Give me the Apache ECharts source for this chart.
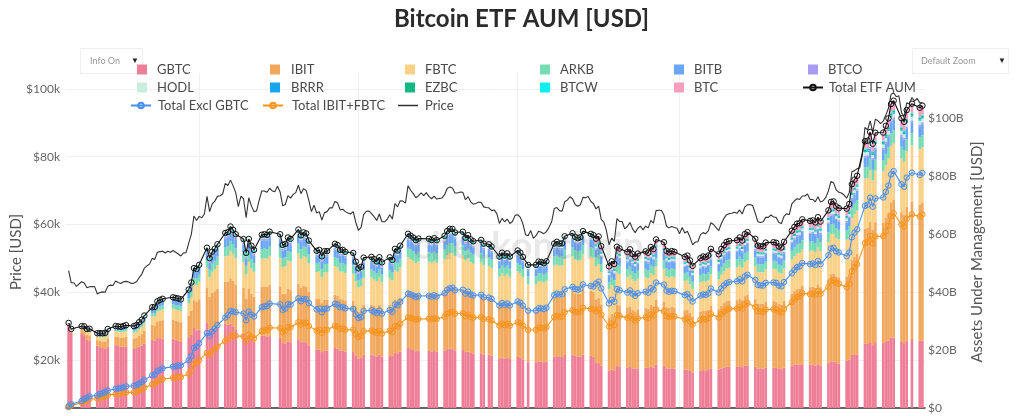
<!DOCTYPE html>
<html><head><meta charset="utf-8">
<script src="https://cdn.jsdelivr.net/npm/echarts@6/dist/echarts.min.js"></script>
<style>html,body{margin:0;padding:0;background:#fff}#c{width:1024px;height:416px}</style>
</head><body><div id="c"></div>
<script>
// ---------- calendar ----------
const firstDay = '2024-01-11';
const lastDay = '2024-12-03';
const marketHolidays = ['2024-01-15','2024-02-19','2024-03-29','2024-05-27','2024-06-19','2024-07-04','2024-09-02','2024-11-28'];
const gridDates = ['2024-03-01','2024-05-01','2024-07-01','2024-09-01','2024-11-01'];
const priceTicks = [20,40,60,80,100];      // $k
const aumTicks = [0,20,40,60,80,100];      // $B

// ---------- BTC price, daily close ($k), calendar days ----------
const priceJan = [46.4,42.8,42.8,41.7,42.5,43.1,42.7,41.3,41.6,41.7,41.6,39.5,39.9,40.1,40.0,41.8,42.1,42.0,43.3,42.9,42.6];
const priceFeb = [43.1,43.2,43.0,42.6,42.7,43.1,44.3,45.3,47.1,47.8,48.3,50.0,49.7,51.8,52.0,52.1,51.6,52.1,51.8,52.3,51.8,51.3,50.7,51.6,51.7,54.5,57.1,62.5,61.2];
const priceMar = [62.4,62.0,63.1,68.3,63.8,66.1,66.9,68.3,68.5,69.0,72.1,71.5,73.1,71.4,69.4,65.3,68.4,67.6,62.0,67.9,65.5,63.8,64.0,67.2,69.9,69.9,69.5,70.7,69.9,69.7,71.3];
const priceApr = [69.6,65.5,65.9,68.5,67.8,68.9,69.4,71.6,69.1,70.6,70.0,67.1,63.8,65.7,63.4,63.8,61.3,63.5,63.8,64.9,64.9,66.8,66.4,64.3,64.5,63.8,63.4,63.1,63.8,60.6];
const priceMay = [58.3,59.1,62.9,63.9,64.0,63.2,62.3,61.2,63.1,60.8,60.8,61.5,62.9,61.6,66.2,65.2,67.0,66.9,66.3,71.4,70.1,69.1,67.9,68.5,69.3,68.5,69.4,68.3,67.6,68.4,67.5];
const priceJun = [67.7,67.8,68.8,70.6,71.1,70.8,69.3,69.3,69.6,69.5,67.3,68.2,66.7,66.0,66.2,66.6,66.5,65.2,65.0,64.9,64.1,64.3,63.2,60.3,61.8,60.8,61.6,60.3,60.9,62.7];
const priceJul = [62.9,62.1,60.2,57.0,56.7,58.2,55.9,56.7,58.0,57.7,57.3,57.9,59.2,60.8,64.7,65.0,64.1,63.9,66.7,67.2,68.2,67.6,65.9,65.4,65.8,68.0,67.9,68.3,66.8,66.2,64.6];
const priceAug = [65.4,61.5,60.7,58.1,54.0,56.0,55.0,61.7,60.9,60.9,58.7,59.4,60.6,58.7,57.6,58.9,59.5,58.4,59.5,59.0,61.2,60.4,64.1,64.2,64.2,62.8,59.5,59.0,59.4,59.1,58.9];
const priceSep = [57.3,59.1,57.5,58.0,56.2,54.0,54.8,54.9,57.0,57.6,57.3,58.1,60.5,60.0,59.1,58.2,60.3,61.8,62.9,63.2,63.3,63.6,63.3,64.3,63.1,65.2,65.8,65.9,65.6,63.3];
const priceOct = [60.8,60.6,60.8,62.1,62.1,62.8,62.2,62.1,60.6,60.3,62.4,63.2,62.9,66.1,67.0,67.6,67.4,68.4,68.4,69.0,67.4,67.4,66.7,68.2,66.6,67.0,68.0,69.9,72.7,72.3,70.2];
const priceNov = [69.5,69.3,68.7,67.8,69.4,75.6,75.9,76.5,76.7,80.5,88.7,87.9,90.6,87.3,91.1,90.6,89.8,90.5,92.3,94.3,98.4,98.9,97.7,98.0,93.0,91.9,95.9,95.6,97.5,96.4];
const priceDec = [97.2,95.9,96.0];

// ---------- ETF AUM ($B), one value per trading day ----------
const gbtc = [
28.7,26.0, 25.8,25.1,23.7,23.3, 21.5,21.0,20.7,20.4,21.2, 21.7,21.4,21.1,21.2,21.1, 20.6,20.7,21.2,21.5,22.2,
23.5,23.3,24.1,24.1,24.0, 23.9,23.6,23.2,22.8, 24.4,25.4,27.6,26.8,27.1, 29.4,26.8,27.5,27.6,27.9, 29.2,28.7,29.2,28.2,26.9,
25.7,23.2,25.1,23.8,23.0, 25.0,24.9,24.6,24.8, 24.2,22.4,22.3,23.0,22.7, 23.7,22.7,23.0,22.7,21.6, 20.2,20.2,19.3,19.9,19.8,
20.7,20.5,19.8,19.7,19.5, 19.3,18.2,17.1,17.3,18.4, 18.4,18.1,17.8,18.4,17.7, 18.2,17.9,19.2,18.9,19.4, 20.7,20.3,20.0,19.6,19.8,
19.7,19.5,19.7,19.4, 19.8,20.3,20.5,20.3,19.9, 20.0,19.3,19.5,19.0,18.7, 18.9,18.5,18.4,18.1, 16.9,17.4,17.0,17.3,16.9,
17.6,17.3,16.8,15.8, 15.8,16.1,16.0,15.8,16.0, 17.8,17.9,17.6,17.6,18.3, 18.5,18.0,17.8,17.8,18.4, 18.0,17.7,15.5,15.6,14.6,
12.8,13.3,13.0,14.6,14.4, 14.0,14.2,13.7,13.5,13.7, 13.9,13.8,14.2,14.0,14.9, 14.6,13.7,13.6,13.7,13.6, 13.2,13.3,12.8,12.3,
12.9,13.1,13.0,13.1,13.7, 13.2,13.6,13.9,14.2,14.2, 14.2,14.4,14.1,14.6,14.7, 14.2,13.6,13.5,13.6,13.9, 13.9,13.8,13.5,13.4,13.9,
14.7,14.9,15.0,14.9,15.1, 14.9,14.9,14.7,15.1,14.7, 15.5,16.1,16.0,15.5,15.3, 16.4,16.7,18.3,18.3,18.5, 22.3,22.1,22.7,21.7,22.7,
22.4,22.8,23.2,24.3,24.3, 22.8,22.4,23.3,23.8, 23.2,23.2];
const ibit = [
0.1,0.5, 1.1,1.4,1.6,1.8, 1.9,2.2,2.3,2.5,2.8, 3.0,3.1,3.1,3.2,3.4, 3.4,3.5,3.8,4.0,4.4,
5.1,5.2,5.8,6.1,6.3, 6.6,6.6,6.7,6.8, 7.5,8.2,9.6,9.9,10.4, 12.0,11.5,12.2,12.7,13.3, 14.4,14.9,15.6,15.7,15.7,
15.7,14.6,16.2,15.7,15.3, 16.9,17.1,17.2,17.8, 17.8,16.9,17.2,18.1,18.0, 19.2,18.7,19.1,19.1,18.4, 17.4,17.6,16.9,17.5,17.6,
18.4,18.3,17.8,17.8,17.6, 17.6,16.6,16.0,16.2,17.2, 17.3,17.1,16.8,17.3,16.7, 17.3,17.0,18.3,18.2,18.8, 20.2,20.0,19.8,19.5,19.7,
19.7,19.6,19.8,19.6, 20.1,20.7,21.1,21.2,20.8, 20.9,20.3,20.7,20.3,20.1, 20.3,19.9,19.8,19.6, 18.4,18.9,18.5,18.8,18.4,
19.2,18.9,18.4,17.4, 17.5,17.9,17.9,17.8,18.1, 20.3,20.6,20.5,20.5,21.5, 22.0,21.6,21.5,21.7,22.6, 22.4,22.4,22.0,22.4,21.2,
18.5,19.2,18.9,21.2,21.0, 20.5,20.9,20.3,19.9,20.4, 20.7,20.5,21.4,21.1,22.5, 22.2,21.1,21.0,21.2,21.1, 20.5,20.7,20.1,19.3,
20.4,20.6,20.5,20.8,21.7, 20.9,21.7,22.3,22.7,22.9, 23.0,23.4,23.1,24.0,24.4, 23.4,22.5,22.4,22.4,22.9, 23.0,22.9,22.4,22.3,23.1,
24.7,25.4,26.0,26.3,27.0, 26.8,27.0,26.8,27.6,27.0, 28.7,30.1,30.4,29.9,29.8, 29.0,29.8,32.9,33.9,34.8, 39.6,40.1,41.6,39.8,41.4,
41.6,42.9,44.3,46.7,47.5, 44.8,44.3,46.2,47.3, 46.9,47.5];
const fbtc = [
0.2,0.4, 0.7,0.9,1.1,1.3, 1.3,1.4,1.5,1.6,1.7, 1.8,1.8,1.9,1.9,2.0, 2.0,2.1,2.2,2.4,2.6,
3.0,3.1,3.4,3.5,3.7, 3.8,3.8,3.9,3.9, 4.3,4.7,5.5,5.7,6.1, 7.0,6.8,7.3,7.6,8.0, 8.7,8.9,9.4,9.3,9.2,
9.0,8.3,9.1,8.8,8.7, 9.6,9.7,9.7,9.9, 9.8,9.3,9.4,9.8,9.8, 10.4,10.1,10.3,10.3,9.9, 9.3,9.4,9.0,9.4,9.4,
9.9,9.8,9.5,9.6,9.4, 9.4,8.9,8.5,8.6,9.3, 9.4,9.2,9.1,9.3,9.0, 9.4,9.2,10.0,9.9,10.3, 11.1,11.1,11.0,10.9,11.0,
11.1,11.0,11.2,11.1, 11.4,11.8,11.9,12.0,11.7, 11.8,11.3,11.5,11.1,11.0, 11.1,10.8,10.8,10.6, 10.0,10.2,10.1,10.2,10.0,
10.4,10.3,10.0,9.5, 9.5,9.8,9.8,9.7,9.8, 11.1,11.2,11.0,11.1,11.6, 11.8,11.6,11.5,11.6,12.0, 11.8,11.7,11.5,11.6,11.0,
9.6,9.9,9.7,10.9,10.8, 10.6,10.8,10.5,10.3,10.5, 10.6,10.5,10.9,10.8,11.4, 11.2,10.6,10.4,10.5,10.5, 10.1,10.2,9.8,9.5,
10.0,10.1,10.1,10.2,10.7, 10.3,10.7,10.9,11.2,11.3, 11.3,11.5,11.2,11.7,11.8, 11.4,10.9,10.9,10.8,11.1, 11.1,11.1,10.8,10.7,11.1,
11.8,12.1,12.3,12.3,12.6, 12.5,12.5,12.3,12.7,12.4, 13.1,13.7,13.7,13.3,13.1, 12.7,13.0,14.3,14.7,14.8, 17.3,17.2,17.8,17.0,17.8,
17.7,18.1,18.6,19.5,19.7, 18.5,18.3,19.1,19.5, 19.2,19.3];
const arkb = [
0.04,0.06, 0.13,0.21,0.25,0.29, 0.32,0.36,0.40,0.44,0.50, 0.56,0.60,0.64,0.65,0.69, 0.73,0.78,0.80,0.86,0.94,
1.10,1.19,1.30,1.35,1.41, 1.46,1.50,1.54,1.52, 1.69,1.88,2.19,2.26,2.37, 2.73,2.62,2.78,2.88,3.01, 3.24,3.29,3.44,3.36,3.33,
3.24,2.98,3.26,3.14,3.06, 3.36,3.36,3.34,3.39, 3.34,3.08,3.10,3.22,3.19, 3.37,3.25,3.32,3.29,3.15, 2.92,2.93,2.82,2.92,2.93,
3.07,3.05,2.96,2.97,2.93, 2.87,2.67,2.51,2.54,2.77, 2.78,2.74,2.69,2.78,2.68, 2.77,2.71,2.98,2.93,3.02, 3.28,3.29,3.25,3.19,3.22,
3.21,3.18,3.21,3.17, 3.30,3.39,3.41,3.40,3.33, 3.34,3.16,3.21,3.13,3.10, 3.13,3.00,2.99,2.95, 2.77,2.84,2.80,2.83,2.77,
2.89,2.86,2.77,2.66, 2.66,2.73,2.71,2.69,2.72, 3.04,3.12,3.08,3.07,3.20, 3.24,3.16,3.14,3.16,3.26, 3.21,3.18,3.10,3.14,2.89,
2.48,2.58,2.53,2.90,2.86, 2.79,2.85,2.76,2.71,2.77, 2.80,2.77,2.88,2.84,3.01, 2.95,2.80,2.71,2.73,2.72, 2.59,2.61,2.53,2.43,
2.57,2.59,2.58,2.61,2.72, 2.62,2.71,2.78,2.83,2.84, 2.85,2.89,2.84,3.00,3.03, 2.91,2.74,2.73,2.74,2.79, 2.80,2.79,2.73,2.71,2.81,
3.04,3.08,3.18,3.17,3.21, 3.17,3.17,3.13,3.21,3.13, 3.36,3.49,3.47,3.30,3.27, 3.19,3.26,3.55,3.64,3.67, 3.83,3.80,3.92,3.69,3.85,
3.83,3.91,3.99,4.25,4.28, 4.01,3.97,4.14,4.21, 4.14,4.15];
const bitb = [
0.19,0.21, 0.26,0.34,0.37,0.42, 0.43,0.52,0.56,0.64,0.71, 0.78,0.82,0.85,0.91,0.95, 0.98,0.99,1.06,1.13,1.22,
1.35,1.39,1.50,1.56,1.56, 1.62,1.66,1.64,1.67, 1.85,2.00,2.25,2.20,2.31, 2.60,2.42,2.58,2.61,2.73, 2.88,2.93,3.00,2.93,2.85,
2.77,2.54,2.78,2.69,2.62, 2.87,2.87,2.85,2.90, 2.85,2.62,2.64,2.74,2.71, 2.86,2.76,2.82,2.80,2.68, 2.54,2.55,2.45,2.54,2.55,
2.67,2.66,2.57,2.58,2.55, 2.55,2.36,2.27,2.30,2.45, 2.46,2.43,2.39,2.46,2.37, 2.45,2.40,2.58,2.54,2.61, 2.78,2.73,2.69,2.65,2.67,
2.66,2.64,2.67,2.63, 2.68,2.75,2.77,2.76,2.70, 2.71,2.62,2.66,2.60,2.57, 2.59,2.54,2.53,2.50, 2.35,2.41,2.37,2.40,2.35,
2.45,2.42,2.35,2.21, 2.21,2.26,2.25,2.23,2.26, 2.52,2.54,2.56,2.56,2.67, 2.70,2.64,2.62,2.63,2.72, 2.67,2.65,2.58,2.62,2.46,
2.16,2.24,2.20,2.47,2.44, 2.38,2.42,2.35,2.30,2.36, 2.38,2.36,2.45,2.42,2.56, 2.51,2.38,2.36,2.38,2.36, 2.30,2.32,2.25,2.16,
2.28,2.30,2.29,2.32,2.42, 2.33,2.41,2.47,2.52,2.53, 2.53,2.57,2.52,2.61,2.63, 2.53,2.43,2.42,2.43,2.48, 2.49,2.48,2.42,2.41,2.50,
2.64,2.68,2.77,2.76,2.80, 2.76,2.76,2.73,2.80,2.73, 2.87,2.98,2.96,2.88,2.85, 2.78,2.85,3.10,3.19,3.21, 3.47,3.43,3.54,3.41,3.56,
3.53,3.61,3.68,3.84,3.86, 3.64,3.59,3.75,3.81, 3.75,3.75];
// Grayscale Bitcoin Mini Trust, trading days from its launch
const btcMiniStart = '2024-07-31';
const btcMini = [
1.74,1.83,1.72, 1.57,1.62,1.60,1.79,1.77, 1.75,1.79,1.73,1.70,1.74, 1.79,1.77,1.84,1.81,1.92, 1.88,1.79,1.77,1.78,1.77,
1.73,1.74,1.69,1.62, 1.77,1.79,1.78,1.80,1.88, 1.80,1.87,1.92,1.95,1.96, 2.03,2.06,2.02,2.09,2.11, 2.03,1.95,1.94,1.95,1.99,
1.99,1.99,1.94,1.93,2.00, 2.18,2.21,2.23,2.22,2.26, 2.26,2.26,2.23,2.28,2.23, 2.38,2.47,2.46,2.39,2.36, 2.31,2.36,2.65,2.66,2.75,
2.55,2.60,2.68,2.58,2.70, 2.75,2.81,2.94,3.07,3.17, 2.98,2.94,3.07,3.12, 3.07,3.07];
// small funds: weekly estimates ($B), one value per trading week
const btco = [0.04,0.08,0.12,0.15,0.18,0.23,0.26,0.36,0.53,0.72, 0.65,0.67,0.61,0.61,0.54,0.53,0.49,0.48,0.50,0.54, 0.53,0.55,0.53,0.50,0.46,0.45,0.43,0.49,0.50,0.48, 0.42,0.42,0.44,0.43,0.39,0.41,0.43,0.45,0.43,0.43, 0.47,0.47,0.50,0.51,0.62,0.66,0.66,0.67];
const hodl = [0.01,0.03,0.05,0.07,0.09,0.13,0.15,0.23,0.33,0.43, 0.43,0.49,0.49,0.53,0.49,0.52,0.49,0.50,0.52,0.58, 0.58,0.62,0.61,0.59,0.55,0.55,0.53,0.61,0.64,0.64, 0.57,0.59,0.61,0.61,0.58,0.60,0.64,0.68,0.65,0.66, 0.74,0.76,0.82,0.88,1.12,1.23,1.26,1.30];
const brrr = [0.04,0.06,0.08,0.10,0.12,0.15,0.17,0.23,0.29,0.34, 0.32,0.35,0.34,0.35,0.32,0.33,0.30,0.30,0.32,0.35, 0.34,0.35,0.34,0.33,0.30,0.30,0.28,0.32,0.33,0.32, 0.28,0.29,0.30,0.29,0.27,0.28,0.29,0.31,0.30,0.30, 0.32,0.32,0.34,0.35,0.43,0.47,0.46,0.47];
const ezbc = [0.02,0.05,0.07,0.09,0.12,0.15,0.17,0.23,0.30,0.36, 0.35,0.39,0.38,0.40,0.36,0.37,0.34,0.35,0.36,0.40, 0.39,0.41,0.39,0.37,0.35,0.34,0.33,0.38,0.39,0.38, 0.33,0.34,0.35,0.35,0.32,0.33,0.35,0.37,0.35,0.35, 0.38,0.38,0.40,0.42,0.51,0.54,0.54,0.55];
const btcw = [0.01,0.02,0.03,0.03,0.04,0.05,0.06,0.08,0.11,0.13, 0.13,0.15,0.15,0.16,0.15,0.16,0.15,0.16,0.17,0.19, 0.18,0.20,0.19,0.18,0.17,0.17,0.16,0.19,0.19,0.19, 0.17,0.17,0.18,0.18,0.17,0.17,0.19,0.20,0.19,0.20, 0.22,0.22,0.23,0.25,0.31,0.34,0.34,0.35];

// ---------- build ----------
const DAY = 86400000;
const tradingDays = [], weekOf = [];
let wk = -1, prevDow = 9;
for (let t = Date.parse(firstDay); t <= Date.parse(lastDay); t += DAY) {
  const d = new Date(t), dow = d.getUTCDay();
  if (dow === 0 || dow === 6) continue;
  if (marketHolidays.includes(d.toISOString().slice(0,10))) continue;
  if (dow < prevDow) wk++;
  prevDow = dow;
  tradingDays.push(t); weekOf.push(wk);
}
const N = tradingDays.length, NW = wk + 1;
const priceAll = [].concat(priceJan,priceFeb,priceMar,priceApr,priceMay,priceJun,priceJul,priceAug,priceSep,priceOct,priceNov,priceDec);
function check(name, arr, n){ if (arr.length !== n) throw new Error(name + ' length ' + arr.length + ' != ' + n); }
[['gbtc',gbtc],['ibit',ibit],['fbtc',fbtc],['arkb',arkb],['bitb',bitb]].forEach(a => check(a[0], a[1], N));
[['btco',btco],['hodl',hodl],['brrr',brrr],['ezbc',ezbc],['btcw',btcw]].forEach(a => check(a[0], a[1], NW));
const miniIdx = tradingDays.indexOf(Date.parse(btcMiniStart));
check('btcMini', btcMini, N - miniIdx);
check('price', priceAll, Math.round((Date.parse(lastDay) - Date.parse(firstDay)) / DAY) + 1);

const daily = arr => tradingDays.map((t, i) => arr[i]);
const weekly = arr => tradingDays.map((t, i) => arr[weekOf[i]]);
const mini = tradingDays.map((t, i) => i >= miniIdx ? btcMini[i - miniIdx] : null);

const funds = [
  {name:'GBTC', v: daily(gbtc), color:'#ee7e97'},
  {name:'IBIT', v: daily(ibit), color:'#f1a75c'},
  {name:'FBTC', v: daily(fbtc), color:'#fad186'},
  {name:'ARKB', v: daily(arkb), color:'#77dbb4'},
  {name:'BITB', v: daily(bitb), color:'#6aa6f3'},
  {name:'BTCO', v: weekly(btco), color:'#a99df3'},
  {name:'HODL', v: weekly(hodl), color:'#c8eedf'},
  {name:'BRRR', v: weekly(brrr), color:'#17a6ea'},
  {name:'EZBC', v: weekly(ezbc), color:'#14b884'},
  {name:'BTCW', v: weekly(btcw), color:'#10efef'},
  {name:'BTC',  v: mini, color:'#f79dc0'}
];
const total = tradingDays.map((t, i) => funds.reduce((s, f) => s + (f.v[i] || 0), 0));
const exGbtc = tradingDays.map((t, i) => total[i] - gbtc[i]);
const ibitFbtc = tradingDays.map((t, i) => ibit[i] + fbtc[i]);
const priceData = priceAll.map((p, i) => [Date.parse(firstDay) + i * DAY, p]);

const FONT = 'Lato, "Open Sans", sans-serif';
const series = funds.map(f => ({
  name: f.name, type: 'bar', stack: 'aum', yAxisIndex: 1, barWidth: 2.62,
  itemStyle: {color: f.color}, data: tradingDays.map((t, i) => [t, f.v[i]])
}));
function lineSeries(name, vals, color, fill, z) {
  return {name, type: 'line', yAxisIndex: 1, z, symbol: 'circle', symbolSize: 5.5,
    lineStyle: {color, width: 1.1}, itemStyle: {color: fill, borderColor: color, borderWidth: 1},
    data: tradingDays.map((t, i) => [t, +vals[i].toFixed(3)])};
}
series.push({name:'Price', type:'line', yAxisIndex:0, z:4, symbol:'none', lineStyle:{color:'#333', width:1.1}, itemStyle:{color:'#333'}, data: priceData});
series.push(lineSeries('Total IBIT+FBTC', ibitFbtc, '#f7951e', 'rgba(247,149,30,0.12)', 5));
series.push(lineSeries('Total Excl GBTC', exGbtc, '#4a8ff0', 'rgba(74,143,240,0.12)', 6));
series.push(lineSeries('Total ETF AUM', total, '#111111', 'rgba(255,255,255,0)', 7));

// legend: one component per item for exact column placement
const legendItems = [
  ['GBTC',137,71,'sq',157], ['IBIT',270,71,'sq',291], ['FBTC',405,71,'sq',425], ['ARKB',540,71,'sq',560], ['BITB',674,71,'sq',694], ['BTCO',808,71,'sq',828],
  ['HODL',137,89,'sq',157], ['BRRR',270,89,'sq',291], ['EZBC',405,89,'sq',425], ['BTCW',540,89,'sq',560], ['BTC',674,89,'sq',694], ['Total ETF AUM',802,89,'ln',828],
  ['Total Excl GBTC',130,107,'ln',157], ['Total IBIT+FBTC',262,107,'ln',291], ['Price',398,107,'pl',425]
];
const legends = legendItems.map(([name, x, y, kind, tx]) => {
  const w = kind === 'sq' ? 10 : 20;
  const h = kind === 'sq' ? 10 : (kind === 'pl' ? 1.5 : 7);
  const item = kind === 'ln' ? {name} : {name, icon: 'rect'};
  return {
    data: [item], left: x, top: y - 8, padding: 0, itemWidth: w, itemHeight: h,
    selectedMode: false, z: 20,
    textStyle: {fontFamily: FONT, fontSize: 13, color: '#4a4a4a', padding: [0, 0, 0, Math.max(0, tx - (x + w + 5))]}
  };
});

const chart = echarts.init(document.getElementById('c'), null, {renderer: 'canvas'});
const gridTs = gridDates.map(d => Date.parse(d));
chart.setOption({
  animation: false,
  backgroundColor: '#fff',
  title: {text: 'Bitcoin ETF AUM [USD]', left: 394, top: 7, padding: 0,
    textStyle: {fontFamily: FONT, fontSize: 24, fontWeight: 'bold', color: '#2b2b2b'}},
  legend: legends,
  grid: {left: 66, right: 99, top: 73, bottom: 8},
  xAxis: {type: 'time', min: Date.parse('2024-01-10T12:00:00Z'), max: Date.parse('2024-12-03T12:00:00Z'),
    axisLine: {show: true, onZero: false, lineStyle: {color: '#333', width: 1.5}},
    axisTick: {show: false, customValues: gridTs},
    axisLabel: {show: false, customValues: gridTs},
    splitLine: {show: true, lineStyle: {color: '#efefef', width: 1}}},
  yAxis: [
    {type: 'value', position: 'left', min: 5.83, max: 104.72,
      axisLine: {show: false}, axisTick: {show: false, customValues: priceTicks},
      axisLabel: {customValues: priceTicks, formatter: v => '$' + v + 'k', color: '#666', fontFamily: FONT, fontSize: 12, margin: 6},
      splitLine: {show: true, lineStyle: {color: '#f0f0f0'}}},
    {type: 'value', position: 'right', min: 0, max: 115.6,
      axisLine: {show: false}, axisTick: {show: false, customValues: aumTicks},
      axisLabel: {customValues: aumTicks, formatter: v => v === 0 ? '$0' : '$' + v + 'B', color: '#666', fontFamily: FONT, fontSize: 12, margin: 3},
      splitLine: {show: false}}
  ],
  graphic: [
    {type: 'text', x: 16, y: 252, rotation: Math.PI / 2, style: {text: 'Price [USD]', textAlign: 'center', textVerticalAlign: 'middle', fill: '#555', font: '15px ' + FONT}},
    {type: 'text', x: 977, y: 252, rotation: Math.PI / 2, style: {text: 'Assets Under Management [USD]', textAlign: 'center', textVerticalAlign: 'middle', fill: '#555', font: '15px ' + FONT}},
    {type: 'text', left: 413, top: 228, z: 100, silent: true, style: {text: 'checkonchain', fill: 'rgba(110,110,110,0.16)', font: 'bold 38px ' + FONT}},
    {type: 'rect', shape: {x: 80.5, y: 48.5, width: 62, height: 25}, style: {fill: 'rgba(255,255,255,0)', stroke: '#eeeeee', lineWidth: 1}, z: 0},
    {type: 'text', x: 90, y: 61, z: 1, style: {text: 'Info On', fill: '#999', font: '9px ' + FONT, textVerticalAlign: 'middle'}},
    {type: 'text', x: 131, y: 60, z: 1, style: {text: '▼', fill: '#222', font: '8px ' + FONT, textVerticalAlign: 'middle'}},
    {type: 'rect', shape: {x: 912.5, y: 48.5, width: 96, height: 25}, style: {fill: 'rgba(255,255,255,0)', stroke: '#eeeeee', lineWidth: 1}, z: 0},
    {type: 'text', x: 921, y: 61, z: 1, style: {text: 'Default Zoom', fill: '#999', font: '9px ' + FONT, textVerticalAlign: 'middle'}},
    {type: 'text', x: 998, y: 60, z: 1, style: {text: '▼', fill: '#222', font: '8px ' + FONT, textVerticalAlign: 'middle'}}
  ],
  series
});
</script></body></html>
